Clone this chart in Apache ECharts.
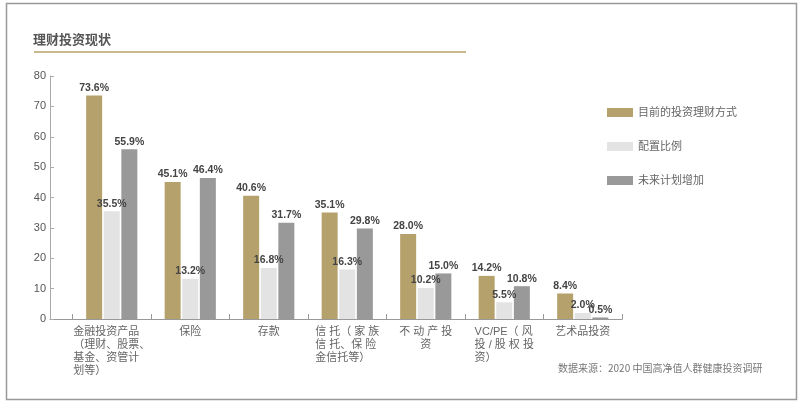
<!DOCTYPE html>
<html>
<head>
<meta charset="utf-8">
<script src="https://cdn.jsdelivr.net/npm/echarts@6/dist/echarts.min.js"></script>
<style>
html,body{margin:0;padding:0;background:#fff;}
#c{width:810px;height:407px;}
</style>
</head>
<body>
<div id="c"></div>
<script>
var categories = [
  "金融投资产品\n（理财、股票、\n基金、资管计\n划等）",
  "保险",
  "存款",
  "信 托（ 家 族\n信 托、保 险\n金信托等）",
  "不 动 产 投\n资",
  "VC/PE（ 风\n投 / 股 权 投\n资）",
  "艺术品投资"
];
var seriesNames = ["目前的投资理财方式", "配置比例", "未来计划增加"];
var currentValues = [73.6, 45.1, 40.6, 35.1, 28.0, 14.2, 8.4];
var allocationValues = [35.5, 13.2, 16.8, 16.3, 10.2, 5.5, 2.0];
var futureValues = [55.9, 46.4, 31.7, 29.8, 15.0, 10.8, 0.5];
var yTicks = [0, 10, 20, 30, 40, 50, 60, 70, 80];
var titleText = "理财投资现状";
var sourceText = "数据来源：2020 中国高净值人群健康投资调研";

var colors = ["#b5a16b", "#e3e3e3", "#999999"];
var cnFont = '"Liberation Sans", "Noto Sans CJK SC", sans-serif';

var chart = echarts.init(document.getElementById('c'), null, {renderer: 'canvas'});

function makeSeries(name, data, color) {
  return {
    name: name,
    type: 'bar',
    data: data,
    barWidth: 16,
    barGap: '10%',
    itemStyle: {color: color},
    label: {
      show: true,
      position: 'top',
      distance: 2,
      formatter: function (p) { return p.value.toFixed(1) + '%'; },
      fontFamily: '"Liberation Sans", Arial, sans-serif',
      fontWeight: 'bold',
      fontSize: 10.5,
      color: '#444'
    }
  };
}

chart.setOption({
  animation: false,
  backgroundColor: '#fff',
  title: {
    text: titleText,
    left: 28,
    top: 29,
    textStyle: {fontFamily: cnFont, fontSize: 13, fontWeight: 'bold', color: '#555'}
  },
  legend: {
    orient: 'vertical',
    left: 602,
    top: 102,
    itemWidth: 26,
    itemHeight: 9,
    itemGap: 23,
    icon: 'rect',
    data: seriesNames,
    textStyle: {fontFamily: cnFont, fontSize: 11, color: '#666', padding: [0, 0, 0, 0]}
  },
  grid: [
    {left: 72.5, right: 188, top: 76, bottom: 88},
    {left: 50, right: 188, top: 76, bottom: 88}
  ],
  xAxis: [
    {
      type: 'category',
      gridIndex: 0,
      data: categories,
      axisLine: {lineStyle: {color: '#999', width: 1}},
      axisTick: {show: true, inside: true, length: 5, lineStyle: {color: '#999'}},
      axisLabel: {
        interval: 0,
        margin: 6,
        fontFamily: cnFont,
        fontSize: 11,
        color: '#666',
        lineHeight: 13,
        formatter: function (v) {
          var style = v.indexOf('不') === 0 ? 'c' : 'a';
          return v.split('\n').map(function (l) { return '{' + style + '|' + l + '}'; }).join('\n');
        },
        rich: {
          a: {align: 'left', fontFamily: cnFont, fontSize: 11, color: '#666', lineHeight: 13},
          c: {align: 'center', fontFamily: cnFont, fontSize: 11, color: '#666', lineHeight: 13}
        }
      }
    },
    {
      type: 'category',
      gridIndex: 1,
      data: [''],
      axisLine: {lineStyle: {color: '#999', width: 1}},
      axisTick: {show: false},
      axisLabel: {show: false}
    }
  ],
  yAxis: [
    {
      type: 'value',
      gridIndex: 0,
      min: yTicks[0],
      max: yTicks[yTicks.length - 1],
      interval: yTicks[1] - yTicks[0],
      offset: 22.5,
      axisLine: {show: true, lineStyle: {color: '#aaa'}},
      axisTick: {show: true, inside: true, length: 4, lineStyle: {color: '#aaa'}},
      splitLine: {show: false},
      axisLabel: {
        margin: 4,
        fontFamily: '"Liberation Sans", Arial, sans-serif',
        fontSize: 11,
        color: '#555'
      }
    },
    {
      type: 'value',
      gridIndex: 1,
      show: false,
      min: 0,
      max: 80
    }
  ],
  series: [
    makeSeries(seriesNames[0], currentValues, colors[0]),
    makeSeries(seriesNames[1], allocationValues, colors[1]),
    makeSeries(seriesNames[2], futureValues, colors[2])
  ],
  graphic: [
    {
      type: 'rect',
      shape: {x: 6.5, y: 3.5, width: 790, height: 396},
      style: {fill: 'none', stroke: '#999', lineWidth: 1.5},
      silent: true
    },
    {
      type: 'rect',
      shape: {x: 34, y: 51, width: 432, height: 2},
      style: {fill: '#c9b98c'},
      silent: true
    },
    {
      type: 'text',
      left: 558,
      top: 363,
      style: {text: sourceText, font: '10px "Noto Sans CJK SC", sans-serif', fill: '#777'}
    }
  ]
});
</script>
</body>
</html>
